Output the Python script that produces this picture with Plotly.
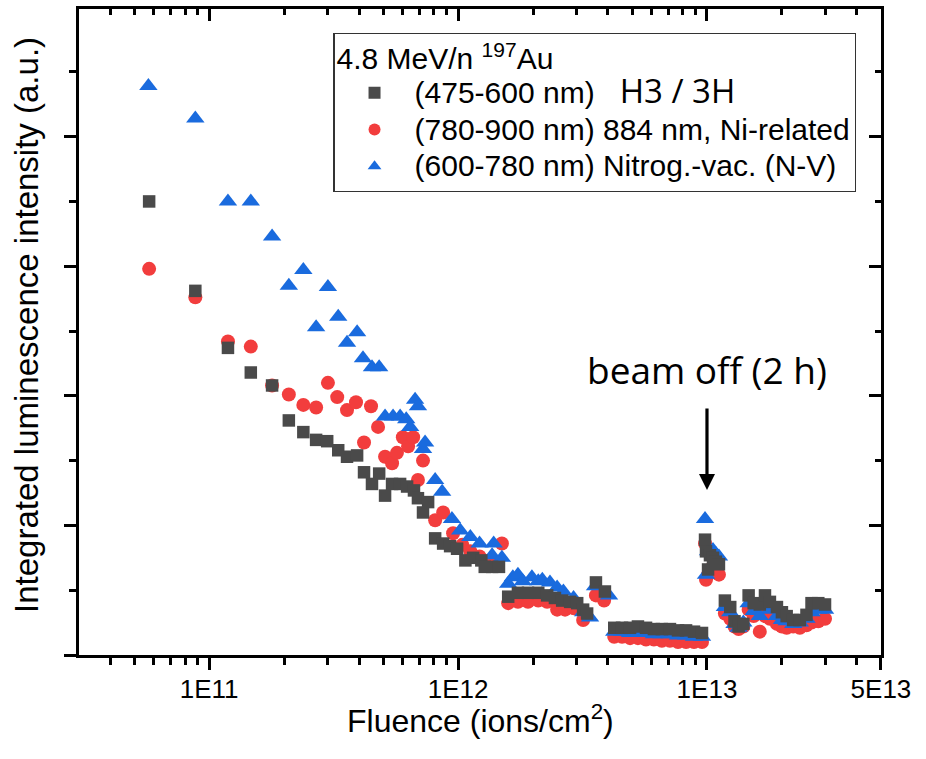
import math
import plotly.graph_objects as go

# ---------------- data ----------------
# shared fluence grids for the later segments (ions/cm^2)
x_seg3 = [4.24e12, 4.56e12, 4.91e12, 5.28e12, 5.69e12, 6.12e12, 6.59e12, 7.10e12,
          7.65e12, 8.24e12, 8.87e12, 9.55e12]
x_spike = [9.82e12, 9.91e12, 1.01e13, 1.028e13, 1.057e13, 1.086e13, 1.117e13]
x_seg5 = [1.18e13, 1.24e13, 1.29e13, 1.34e13, 1.40e13, 1.47e13, 1.54e13, 1.63e13,
          1.71e13, 1.79e13, 1.91e13, 2.0e13, 2.09e13, 2.22e13, 2.36e13, 2.51e13,
          2.63e13, 2.80e13, 2.98e13]

# (475-600 nm) H3 / 3H  -- squares
x_h3_early = [5.74e10, 8.8e10, 1.19e11, 1.47e11, 1.79e11, 2.09e11, 2.39e11, 2.69e11,
              2.98e11, 3.30e11, 3.58e11, 3.93e11, 4.19e11, 4.51e11, 4.82e11, 5.09e11,
              5.43e11, 5.85e11, 6.24e11, 6.65e11, 6.90e11, 7.23e11, 7.58e11, 8.09e11,
              8.71e11, 9.29e11, 9.91e11, 1.07e12, 1.15e12, 1.24e12, 1.28e12, 1.37e12,
              1.46e12,
              1.59e12, 1.74e12, 1.91e12, 2.10e12, 2.28e12, 2.45e12, 2.62e12, 2.82e12,
              3.01e12, 3.18e12, 3.30e12,
              3.58e12, 3.89e12]
y_h3 = [3.50, 2.81, 2.37, 2.18, 2.08, 1.81, 1.72, 1.66, 1.65, 1.58, 1.53, 1.54, 1.41,
        1.32, 1.40, 1.23, 1.32, 1.32, 1.30, 1.27, 1.21, 1.10, 1.18, 0.90, 0.86, 0.84,
        0.82, 0.73, 0.75, 0.73, 0.68, 0.68, 0.68,
        0.45, 0.48, 0.48, 0.48, 0.46, 0.44, 0.42, 0.41, 0.40, 0.35, 0.32,
        0.56, 0.49,
        0.21, 0.21, 0.21, 0.22, 0.21, 0.20, 0.20, 0.20, 0.19, 0.19, 0.18, 0.17,
        0.89, 0.80, 0.66, 0.77, 0.75, 0.72, 0.70,
        0.42, 0.37, 0.26, 0.22, 0.24, 0.46, 0.40, 0.39, 0.46, 0.41, 0.37, 0.33,
        0.30, 0.27, 0.27, 0.31, 0.40, 0.40, 0.39]

# (780-900 nm) 884 nm, Ni-related -- circles
x_ni_early = [5.74e10, 8.8e10, 1.19e11, 1.47e11, 1.79e11, 2.09e11, 2.39e11, 2.69e11,
              3.0e11, 3.27e11, 3.58e11, 3.89e11, 4.19e11, 4.47e11, 4.77e11, 5.09e11,
              5.43e11, 5.68e11, 6.0e11, 6.3e11, 6.6e11, 6.90e11, 7.23e11, 8.09e11,
              8.71e11, 9.55e11, 1.04e12, 1.12e12, 1.22e12, 1.34e12, 1.5e12,
              1.59e12, 1.74e12, 1.91e12, 2.10e12, 2.28e12, 2.50e12, 2.69e12, 2.92e12,
              3.18e12,
              3.58e12, 3.86e12]
y_ni = [2.98, 2.76, 2.42, 2.38, 2.08, 2.01, 1.93, 1.91, 2.10, 1.99, 1.89, 1.95, 1.64,
        1.92, 1.76, 1.53, 1.48, 1.56, 1.68, 1.61, 1.68, 1.35, 1.50, 1.04, 1.10, 0.94,
        0.85, 0.80, 0.76, 0.72, 0.86,
        0.40, 0.41, 0.41, 0.42, 0.41, 0.35, 0.35, 0.36, 0.27,
        0.46, 0.42,
        0.14, 0.14, 0.13, 0.13, 0.12, 0.12, 0.11, 0.11, 0.10, 0.10, 0.10, 0.10,
        0.86, 0.58, 0.62, 0.66, 0.67, 0.64, 0.62,
        0.32, 0.28, 0.22, 0.20, 0.22, 0.35, 0.30, 0.18, 0.30, 0.28, 0.24, 0.22,
        0.21, 0.22, 0.21, 0.23, 0.25, 0.26, 0.28]

# (600-780 nm) Nitrog.-vac. (N-V) -- triangles
x_nv_early = [5.7e10, 8.8e10, 1.19e11, 1.47e11, 1.79e11, 2.09e11, 2.39e11, 2.69e11,
              3.0e11, 3.30e11, 3.58e11, 3.93e11, 4.15e11, 4.51e11, 4.82e11, 5.09e11,
              5.48e11, 5.85e11, 6.19e11, 6.42e11, 6.72e11, 6.90e11, 7.23e11, 7.37e11,
              8.09e11, 8.63e11, 9.45e11, 1.02e12, 1.12e12, 1.22e12, 1.37e12, 1.39e12,
              1.5e12,
              1.59e12, 1.66e12, 1.74e12, 1.82e12, 1.98e12, 2.10e12, 2.18e12, 2.34e12,
              2.50e12, 2.65e12, 2.91e12, 3.18e12, 3.39e12,
              3.55e12, 4.04e12]
y_nv = [4.39, 4.14, 3.50, 3.50, 3.23, 2.85, 2.97, 2.53, 2.84, 2.61, 2.41, 2.49, 2.29,
        2.22, 2.22, 1.84, 1.84, 1.84, 1.82, 1.76, 1.97, 1.92, 1.59, 1.64, 1.35, 1.26,
        1.05, 0.96, 0.91, 0.86, 0.77, 0.86, 0.75,
        0.55, 0.60, 0.62, 0.57, 0.60, 0.57, 0.58, 0.56, 0.52, 0.49, 0.44, 0.33, 0.29,
        0.53, 0.46,
        0.18, 0.18, 0.17, 0.17, 0.17, 0.16, 0.16, 0.16, 0.15, 0.15, 0.14, 0.14,
        1.05, 0.62, 0.80, 0.80, 0.81, 0.78, 0.76,
        0.37, 0.33, 0.24, 0.21, 0.25, 0.40, 0.34, 0.30, 0.38, 0.35, 0.30, 0.27,
        0.26, 0.24, 0.25, 0.28, 0.33, 0.35, 0.35]

x_h3 = x_h3_early + x_seg3 + x_spike + x_seg5
x_ni = x_ni_early + x_seg3 + x_spike + x_seg5
x_nv = x_nv_early + x_seg3 + x_spike + x_seg5

LEG_SPAN = "<span style='font-size:30px'>{}</span>"
names = [LEG_SPAN.format("(475-600 nm) \u00a0\u00a0<span style='font-family:Open Sans;font-size:33px'>H3 / 3H</span>"),
         LEG_SPAN.format("(780-900 nm) 884 nm, Ni-related"),
         LEG_SPAN.format("(600-780 nm) Nitrog.-vac. (N-V)")]
legend_title = LEG_SPAN.format("4.8 MeV/n <sup>197</sup>Au")

x_major = [1e11, 1e12, 1e13, 5e13]
x_major_text = ["1E11", "1E12", "1E13", "5E13"]
x_minor = [m * 10 ** e for e in (10, 11, 12) for m in range(2, 10) if m * 10 ** e > 3e10] + [2e13, 3e13, 4e13]
y_major = [0, 1, 2, 3, 4]
y_minor = [0.5, 1.5, 2.5, 3.5, 4.5]

# ---------------- styling ----------------
GRAY = "#4a4a4a"
RED = "#f23d3d"
BLUE = "#1a6bde"
FONT = "Liberation Sans, Arial, sans-serif"
xr = [math.log10(3e10), 13.6991]
yr = [0, 4.985]

fig = go.Figure()
fig.add_trace(go.Scatter(x=x_ni, y=y_ni, mode="markers", name=names[1], legendrank=2,
                         marker=dict(symbol="circle", size=14, color=RED, line=dict(width=0))))
fig.add_trace(go.Scatter(x=x_nv, y=y_nv, mode="markers", name=names[2], legendrank=3,
                         marker=dict(symbol="triangle-up", size=16, color=BLUE, line=dict(width=0))))
fig.add_trace(go.Scatter(x=x_h3, y=y_h3, mode="markers", name=names[0], legendrank=1,
                         marker=dict(symbol="square", size=12.5, color=GRAY, line=dict(width=0))))
# empty trace to carry the mirrored top/right axes
fig.add_trace(go.Scatter(x=[], y=[], xaxis="x2", yaxis="y2", showlegend=False, hoverinfo="skip"))

axis_common = dict(showline=True, linecolor="black", linewidth=2.5, showgrid=False,
                   zeroline=False, tickcolor="black", tickwidth=2.5, ticklen=12)

fig.update_layout(
    width=926, height=759,
    margin=dict(l=79, r=45, t=9, b=104),
    paper_bgcolor="white", plot_bgcolor="white",
    font=dict(family=FONT, color="black"),
    showlegend=True,
    xaxis=dict(type="log", range=xr, ticks="outside", tickvals=x_major, ticktext=x_major_text,
               tickfont=dict(size=26, family=FONT), ticklabelstandoff=-3,
               minor=dict(tickvals=x_minor, ticks="outside", ticklen=7, tickwidth=2.5,
                          tickcolor="black", showgrid=False),
               **axis_common),
    xaxis2=dict(type="log", range=xr, overlaying="x", side="top", anchor="y2", ticks="inside",
                tickvals=x_major, showticklabels=False,
                minor=dict(tickvals=x_minor, ticks="inside", ticklen=6, tickwidth=2.5,
                           tickcolor="black", showgrid=False),
                **axis_common),
    yaxis=dict(range=yr, ticks="outside", tickvals=y_major, showticklabels=False,
               minor=dict(tickvals=y_minor, ticks="outside", ticklen=7, tickwidth=2.5,
                          tickcolor="black", showgrid=False),
               **axis_common),
    yaxis2=dict(range=yr, overlaying="y", side="right", anchor="x2", ticks="inside",
                tickvals=y_major, showticklabels=False,
                minor=dict(tickvals=y_minor, ticks="inside", ticklen=6, tickwidth=2.5,
                           tickcolor="black", showgrid=False),
                **axis_common),
    legend=dict(x=0.317, y=0.963, xanchor="left", yanchor="top",
                bgcolor="white", bordercolor="#333333", borderwidth=1.3,
                font=dict(family=FONT, size=26, color="black"),
                title=dict(text=legend_title, font=dict(family=FONT, size=27, color="black")),
                itemwidth=70, itemsizing="constant", traceorder="normal", tracegroupgap=0),
    annotations=[
        dict(text="Fluence (ions/cm<sup>2</sup>)", xref="paper", yref="paper", x=0.5,
             y=-0.099, xanchor="center", yanchor="middle", showarrow=False,
             font=dict(family=FONT, size=32, color="black")),
        dict(text="Integrated luminescence intensity (a.u.)", xref="paper", yref="paper",
             x=-0.0648, y=0.511, xanchor="center", yanchor="middle", textangle=-90,
             showarrow=False, font=dict(family=FONT, size=33, color="black")),
        dict(text="", x=13, y=(655 - 490) / 129.6, xref="x", yref="y", showarrow=True,
             ax=0, ay=-83, arrowhead=2, arrowwidth=3.2, arrowsize=1, arrowcolor="black"),
        dict(text="beam off (2 h)", x=13, y=2.2, xref="x", yref="y", showarrow=False,
             xanchor="center", yanchor="middle",
             font=dict(family="Open Sans", size=37, color="black")),
    ],
)

fig.write_html("out.html")
